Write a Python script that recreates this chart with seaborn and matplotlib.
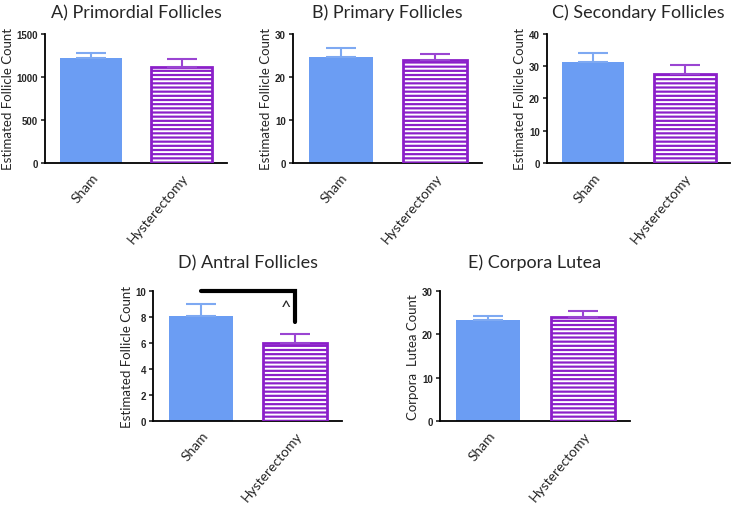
import matplotlib
matplotlib.use("Agg")
import matplotlib.pyplot as plt
import seaborn as sns
import pandas as pd
from matplotlib.patches import Rectangle

groups = ["Sham", "Hysterectomy"]
titles = ["A) Primordial Follicles", "B) Primary Follicles", "C) Secondary Follicles",
          "D) Antral Follicles", "E) Corpora Lutea"]
ylabels = ["Estimated Follicle Count"] * 4 + ["Corpora  Lutea Count"]
means = [[1220, 1120], [24.6, 24.0], [31.3, 27.6], [8.1, 6.0], [23.3, 24.1]]
sems = [[62, 85], [2.1, 1.4], [2.9, 2.8], [0.9, 0.7], [0.9, 1.2]]
ymax = [1500, 30, 40, 10, 30]
ysteps = [500, 10, 10, 2, 10]

blue = "#6b9df3"
purple = "#8b1fc9"

sns.set_style("white")
plt.rcParams["font.family"] = ["Lato", "DejaVu Sans"]
plt.rcParams["hatch.linewidth"] = 1.4

fig = plt.figure(figsize=(7.39, 5.06), dpi=100)
boxes = [
    [0.061, 0.676, 0.246, 0.255],
    [0.396, 0.676, 0.256, 0.255],
    [0.740, 0.676, 0.248, 0.255],
    [0.207, 0.166, 0.256, 0.257],
    [0.595, 0.166, 0.258, 0.257],
]

for i in range(5):
    ax = fig.add_axes(boxes[i])
    df = pd.DataFrame({"group": groups, "value": means[i]})
    sns.barplot(data=df, x="group", y="value", hue="group", palette=[blue, purple],
                width=0.68, errorbar=None, legend=False, saturation=1, ax=ax)
    sham, hyst = ax.patches[0], ax.patches[1]
    sham.set_edgecolor(blue)
    sham.set_linewidth(0)
    hyst.set_facecolor(purple)
    hyst.set_edgecolor("white")
    hyst.set_hatch("----")
    hyst.set_linewidth(0)
    ax.add_patch(Rectangle((hyst.get_x(), 0), hyst.get_width(), hyst.get_height(),
                           fill=False, edgecolor=purple, lw=2.0, zorder=3))
    for j, c in enumerate(["#7ea9f2", "#9a45d2"]):
        ax.errorbar(j, means[i][j], yerr=[[0], [sems[i][j]]], color=c, capsize=11,
                    capthick=1.5, elinewidth=1.5, zorder=4)
    ax.set_xlim(-0.51, 1.5)
    ax.set_ylim(0, ymax[i])
    ax.set_yticks(range(0, ymax[i] + 1, ysteps[i]))
    ax.set_title(titles[i], fontsize=13, pad=17 if i >= 3 else 12)
    ax.set_xlabel("")
    ax.set_ylabel(ylabels[i], fontsize=9.5, labelpad=2)
    for s in ["top", "right"]:
        ax.spines[s].set_visible(False)
    for s in ["left", "bottom"]:
        ax.spines[s].set_color("black")
        ax.spines[s].set_linewidth(1.3)
    ax.tick_params(axis="y", left=True, length=3, width=1.2, labelsize=7, pad=2)
    ax.tick_params(axis="x", bottom=False, labelsize=10, pad=2)
    for t in ax.get_yticklabels():
        t.set_fontweight("bold")
        t.set_family(["Liberation Sans", "DejaVu Sans"])
    ax.set_xticks([0, 1])
    ax.set_xticklabels(groups, rotation=50, ha="right", rotation_mode="anchor")

    if i == 3:
        ax.plot([0, 1, 1], [10, 10, 7.6], color="black", lw=3, clip_on=False,
                solid_joinstyle="miter", zorder=5)
        ax.text(0.9, 8.8, "^", ha="center", va="center", fontsize=13)

fig.savefig("out.png", dpi=100)
